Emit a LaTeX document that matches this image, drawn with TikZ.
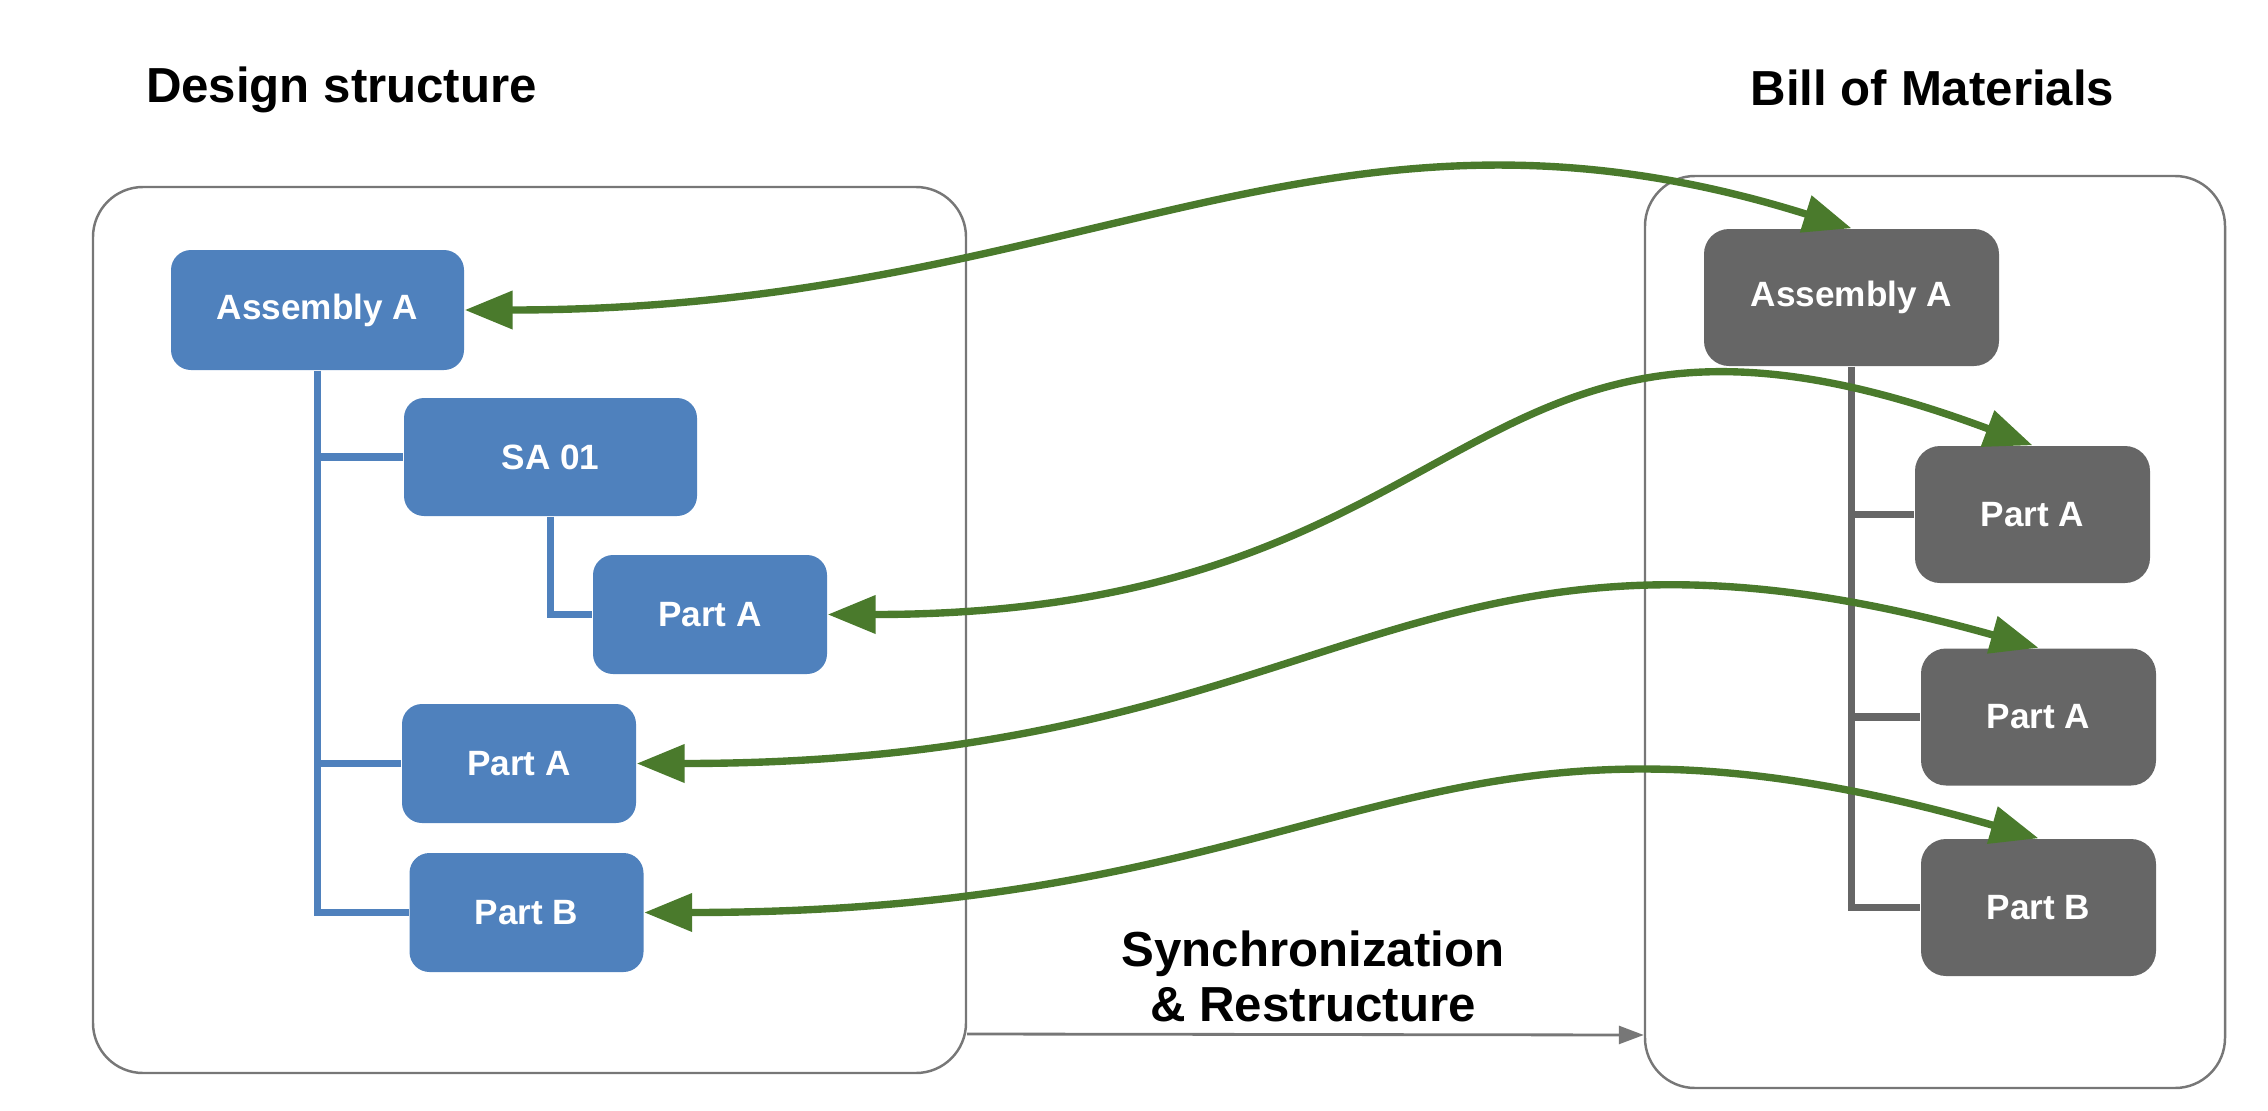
\documentclass[tikz,border=0pt]{standalone}
\usepackage{fontspec}
\setmainfont{Liberation Sans}
\usetikzlibrary{arrows.meta,calc}

\begin{document}
\begin{tikzpicture}[x=1cm,y=1cm,
  hdrtext/.style={font=\fontsize{14}{15.6}\selectfont\bfseries},
  panel/.style={draw=cframe,line width=0.7pt,rounded corners=0.5cm},
  dnode/.style={fill=cdes,text=white,rounded corners=0.2cm,
    font=\fontsize{10}{12}\selectfont\bfseries,minimum width=2.34cm,minimum height=1.19cm},
  bnode/.style={fill=cbom,text=white,rounded corners=0.25cm,
    font=\fontsize{10}{12}\selectfont\bfseries,minimum width=2.35cm,minimum height=1.37cm},
  link/.style={cgreen,line width=2.1pt,
    {Triangle[length=4.8mm,width=3.7mm]}-{Triangle[length=4.8mm,width=3.7mm]}}]
\definecolor{cdes}{HTML}{4F81BD}\definecolor{cbom}{HTML}{666666}
\definecolor{cgreen}{HTML}{4A7A2C}\definecolor{cframe}{HTML}{777777}
\useasboundingbox (0,0) rectangle (22.68,11.10);
% headings
\node[hdrtext,anchor=base] (dtitle) at (3.415,10.08) {Design structure};
\node[hdrtext,anchor=base] (btitle) at (19.325,10.05) {Bill of Materials};
% the two panels
\node[panel,minimum width=8.73cm,minimum height=8.86cm] (lbox) at (5.295,4.80) {};
\node[panel,minimum width=5.80cm,minimum height=9.12cm] (rbox) at (19.35,4.78) {};
% design structure tree
\node[dnode,minimum width=2.93cm,minimum height=1.20cm] (la) at (3.175,8.00) {Assembly A};
\node[dnode,minimum width=2.93cm,minimum height=1.18cm] (lsa) at (5.505,6.53) {SA 01};
\node[dnode] (lpa1) at (7.10,4.955) {Part A};
\node[dnode] (lpa2) at (5.19,3.465) {Part A};
\node[dnode] (lpb) at (5.265,1.975) {Part B};
\draw[cdes,line width=2.2pt] (la.south) |- (lsa.west) (la.south) |- (lpa2.west)
  (la.south) |- (lpb.west) (lsa.south) |- (lpa1.west);
% bill of materials tree
\node[bnode,minimum width=2.95cm] (ra) at (18.515,8.125) {Assembly A};
\node[bnode] (rpa1) at (20.325,5.955) {Part A};
\node[bnode] (rpa2) at (20.385,3.93) {Part A};
\node[bnode] (rpb) at (20.385,2.025) {Part B};
\draw[cbom,line width=2pt] (ra.south) |- (rpa1.west) (ra.south) |- (rpa2.west)
  (ra.south) |- (rpb.west);
% synchronization arrow and label
\draw[-{Triangle[length=2.5mm,width=1.8mm]},cframe,line width=0.8pt]
  (lbox.east |- 0,0.76) -- (rbox.west |- 0,0.75);
\node[hdrtext,align=center] (sync) at (13.13,1.335) {Synchronization\\\& Restructure};
% mapping links (on top)
\draw[link] (la.east) .. controls +(6.2,0) and +(-5.3,1.66) .. (ra.north);
\draw[link] (lpa1.east) .. controls +(6.73,0) and +(-5.79,2.16) .. (rpa1.north);
\draw[link] (lpa2.east) .. controls +(7.14,0) and +(-6.33,1.78) .. (rpa2.north);
\draw[link] (lpb.east) .. controls +(7.14,0) and +(-6.25,1.79) .. (rpb.north);
\end{tikzpicture}
\end{document}
